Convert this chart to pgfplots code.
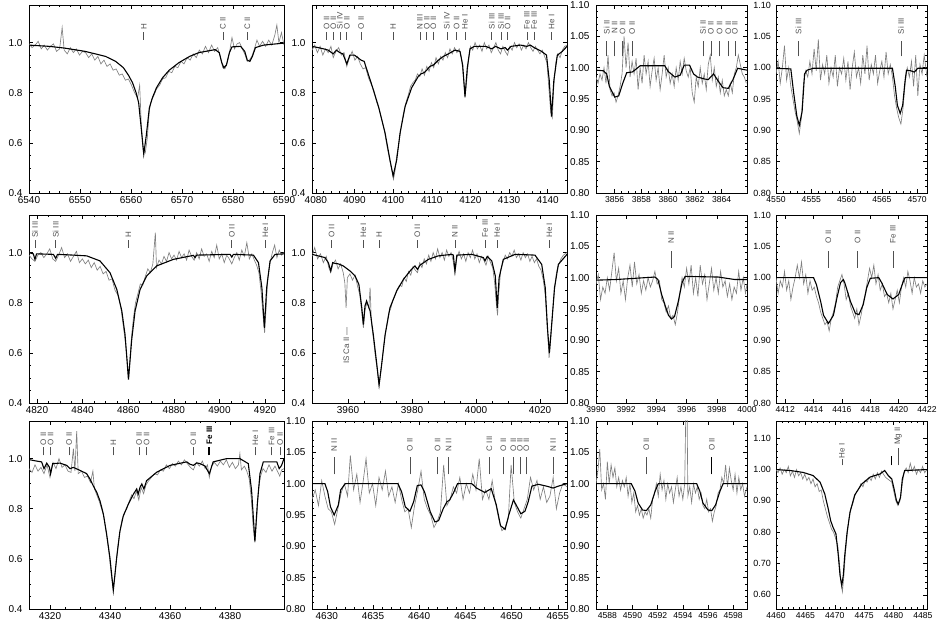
\documentclass[border=0pt]{standalone}
\usepackage{pgfplots}
\pgfplotsset{compat=1.18}
\usepackage{fontspec}
\setmainfont{Liberation Sans}
\definecolor{obsc}{RGB}{128,128,128}
\definecolor{labc}{RGB}{80,80,80}
\newcommand\tickfont{\fontsize{10}{11}\selectfont}
\newcommand\lfont{\fontsize{8}{9}\selectfont}
\def\barlen{8pt}\def\bargap{2pt}
% line identification: bar from (lambda,y) upwards, rotated text above it
\newcommand\lab[4][]{\draw[labc,line width=0.6pt,#1] (axis cs:#2,#3) -- ++(0pt,\barlen) ++(0pt,\bargap) node[rotate=90,anchor=west,inner sep=0pt,font=\lfont,text=labc] {#4};}
\pgfplotsset{
  spec/.style={scale only axis, anchor=south west, height=188pt,
    axis line style={line width=0.6pt}, tick style={black,line width=0.5pt},
    tick align=inside, major tick length=4pt, minor tick length=2pt,
    xtick pos=both, ytick pos=both, clip mode=individual,
    xticklabel style={font=\tickfont,/pgf/number format/1000 sep={},/pgf/number format/assume math mode=true},
    yticklabel style={font=\tickfont,xshift=-3pt,/pgf/number format/fixed,/pgf/number format/fixed zerofill,/pgf/number format/precision=2,/pgf/number format/assume math mode=true}},
  wide/.style={width=255pt},
  narrow/.style={width=151pt,xticklabel style={font=\fontsize{8.6}{10}\selectfont}},
  colfour/.style={yticklabel style={font=\fontsize{9}{10}\selectfont,xshift=1.5pt}},
  lowy/.style={ymin=0.4,ymax=1.15,ytick={0.4,0.6,0.8,1.0},minor y tick num=3,yticklabel style={/pgf/number format/precision=1}},
  hiy/.style={ymin=0.8,ymax=1.1,ytick={0.8,0.85,0.9,0.95,1,1.05,1.1},minor y tick num=4},
  obs/.style={obsc,line width=0.65pt,mark=none},
  mod/.style={black,line width=1.1pt,mark=none},
}
\begin{document}
\begin{tikzpicture}[x=1pt,y=1pt]
\useasboundingbox (0,0) rectangle (945,629);

% ---------------- row 1 ----------------
\def\barlen{8pt}\def\bargap{2pt}
\begin{axis}[spec,wide,lowy,at={(29pt,436pt)},xmin=6540,xmax=6590,xtick={6540,6550,...,6590},minor x tick num=4]
\addplot[obs] coordinates {(6540.0,0.995)(6540.6,0.98)(6541.2,0.99)(6541.8,1.005)(6542.4,0.975)(6543.0,0.99)(6543.6,0.97)(6544.2,0.985)(6544.8,0.995)(6545.4,0.965)(6546.0,0.975)(6546.5,1.06)(6546.9,0.97)(6547.5,0.955)(6548.1,0.98)(6548.7,0.96)(6549.3,0.975)(6549.9,0.95)(6550.5,0.965)(6551.1,0.96)(6551.7,0.94)(6552.3,0.955)(6552.9,0.93)(6553.5,0.945)(6554.1,0.915)(6554.7,0.93)(6555.3,0.905)(6555.9,0.915)(6556.5,0.89)(6557.1,0.895)(6557.7,0.87)(6558.3,0.875)(6558.9,0.85)(6559.5,0.855)(6560.1,0.83)(6560.7,0.80)(6561.3,0.78)(6561.7,0.83)(6562.0,0.68)(6562.4,0.57)(6562.8,0.56)(6563.2,0.62)(6563.6,0.73)(6564.0,0.77)(6564.5,0.79)(6565.0,0.815)(6565.6,0.83)(6566.2,0.855)(6566.8,0.86)(6567.4,0.885)(6568.0,0.88)(6568.6,0.905)(6569.2,0.90)(6569.8,0.925)(6570.4,0.915)(6571.0,0.94)(6571.6,0.93)(6572.2,0.955)(6572.8,0.94)(6573.4,0.97)(6574.0,0.955)(6574.6,0.985)(6575.2,0.96)(6575.8,0.99)(6576.4,0.965)(6577.0,0.98)(6577.5,0.945)(6578.0,0.90)(6578.4,0.895)(6578.8,0.915)(6579.3,0.96)(6579.8,1.02)(6580.3,0.975)(6580.8,0.995)(6581.3,1.00)(6581.8,0.975)(6582.3,0.955)(6582.8,0.925)(6583.2,0.93)(6583.7,0.945)(6584.2,0.975)(6584.7,1.01)(6585.2,0.985)(6585.8,1.005)(6586.4,0.985)(6587.0,1.01)(6587.6,0.99)(6588.2,1.03)(6588.6,1.07)(6589.0,1.0)(6589.5,1.04)(6590.0,0.99)};
\addplot[mod] coordinates {(6540,0.99)(6544,0.985)(6547,0.978)(6551,0.965)(6555,0.945)(6557,0.925)(6558.5,0.9)(6559.5,0.87)(6560.3,0.84)(6561,0.80)(6561.5,0.76)(6562,0.66)(6562.5,0.555)(6563,0.63)(6563.6,0.74)(6564.2,0.78)(6565,0.82)(6566.2,0.86)(6567.5,0.89)(6569.4,0.92)(6571.5,0.945)(6573.3,0.96)(6576.5,0.972)(6577.3,0.96)(6577.8,0.92)(6578.2,0.90)(6578.7,0.91)(6579.3,0.96)(6579.8,0.983)(6581.5,0.985)(6582.3,0.965)(6582.8,0.93)(6583.3,0.925)(6583.8,0.945)(6584.4,0.98)(6586,0.99)(6590,0.998)};
\lab{6562.5}{1.012}{H}
\lab{6578.0}{1.012}{C II}
\lab{6582.8}{1.012}{C II}
\end{axis}

\begin{axis}[spec,wide,lowy,at={(312pt,436pt)},xmin=4079,xmax=4145,xtick={4080,4090,...,4140},minor x tick num=4]
\addplot[obs] coordinates {(4079.0,0.97)(4079.7,0.99)(4080.4,0.96)(4081.1,0.985)(4081.8,0.95)(4082.5,0.975)(4083.2,0.96)(4083.9,0.985)(4084.5,0.94)(4085.2,0.965)(4085.9,0.98)(4086.6,0.95)(4087.3,0.96)(4088.0,0.905)(4088.7,0.94)(4089.4,0.965)(4090.1,0.93)(4090.8,0.945)(4091.5,0.915)(4092.2,0.895)(4092.9,0.90)(4093.6,0.86)(4094.3,0.835)(4095.0,0.81)(4095.7,0.765)(4096.4,0.735)(4097.1,0.69)(4097.8,0.645)(4098.5,0.58)(4099.2,0.525)(4099.7,0.49)(4100.1,0.455)(4100.5,0.49)(4100.9,0.545)(4101.5,0.60)(4102.1,0.665)(4102.7,0.72)(4103.3,0.76)(4103.9,0.79)(4104.5,0.825)(4105.1,0.84)(4105.7,0.85)(4106.3,0.875)(4106.9,0.865)(4107.5,0.895)(4108.1,0.87)(4108.7,0.905)(4109.3,0.885)(4109.9,0.92)(4110.5,0.90)(4111.1,0.94)(4111.7,0.915)(4112.3,0.945)(4112.9,0.93)(4113.5,0.96)(4114.1,0.94)(4114.7,0.975)(4115.3,0.955)(4115.9,0.98)(4116.5,0.96)(4117.1,0.975)(4117.7,0.94)(4118.2,0.86)(4118.6,0.78)(4119.0,0.84)(4119.5,0.93)(4120.0,0.985)(4120.6,0.97)(4121.2,1.0)(4121.8,0.975)(4122.4,0.99)(4123.0,0.965)(4123.6,1.0)(4124.2,0.975)(4124.8,0.99)(4125.4,0.96)(4126.0,0.98)(4126.6,1.0)(4127.2,0.97)(4127.8,0.955)(4128.4,0.985)(4129.0,0.965)(4129.6,0.95)(4130.2,0.985)(4130.8,0.97)(4131.4,1.0)(4132.0,0.98)(4132.6,0.995)(4133.2,0.97)(4133.8,0.99)(4134.4,0.975)(4135.0,1.0)(4135.6,0.98)(4136.2,0.965)(4136.8,0.985)(4137.4,0.97)(4138.0,0.955)(4138.6,0.97)(4139.2,0.945)(4139.8,0.92)(4140.3,0.82)(4140.8,0.72)(4141.2,0.70)(4141.6,0.83)(4142.1,0.92)(4142.6,0.955)(4143.2,0.94)(4143.8,0.97)(4144.4,0.985)(4145.0,0.99)};
\addplot[mod] coordinates {(4079,0.985)(4080.6,0.98)(4082,0.975)(4083.2,0.97)(4084.5,0.955)(4085.3,0.97)(4086.2,0.96)(4087,0.955)(4088.0,0.915)(4088.8,0.95)(4090,0.95)(4091.7,0.93)(4092.5,0.925)(4094.5,0.83)(4096.2,0.745)(4097.9,0.64)(4099.2,0.53)(4100.0,0.468)(4100.9,0.53)(4101.8,0.64)(4103.1,0.745)(4104.8,0.82)(4106.5,0.865)(4107.2,0.875)(4108.0,0.88)(4108.7,0.89)(4109.5,0.905)(4110.4,0.91)(4111.7,0.93)(4113,0.945)(4114.3,0.955)(4116,0.97)(4117.3,0.965)(4118.0,0.91)(4118.6,0.785)(4119.2,0.9)(4119.9,0.975)(4121,0.985)(4124,0.985)(4125.5,0.975)(4126.5,0.985)(4127.9,0.975)(4129,0.98)(4129.6,0.97)(4130.5,0.985)(4133,0.99)(4134.6,0.985)(4135.5,0.99)(4136.5,0.98)(4138.4,0.965)(4139.7,0.95)(4140.4,0.85)(4141.0,0.705)(4141.6,0.85)(4142.5,0.95)(4143.8,0.965)(4145,0.985)};
\lab{4082.8}{1.012}{O II}\lab{4084.5}{1.012}{O II}\lab{4086.2}{1.012}{Si IV}\lab{4088.0}{1.012}{O II}\lab{4091.7}{1.012}{O II}
\lab{4100.0}{1.012}{H}
\lab{4106.95}{1.012}{N III}\lab{4108.7}{1.012}{O II}\lab{4110.4}{1.012}{O II}\lab{4113.9}{1.012}{Si IV}\lab{4116.4}{1.012}{O II}\lab{4118.6}{1.012}{He I}
\lab{4125.5}{1.012}{Si III}\lab{4127.9}{1.012}{Si III}\lab{4129.6}{1.012}{O II}\lab{4134.6}{1.012}{Fe III}\lab{4136.5}{1.012}{Fe III}
\lab{4141.0}{1.012}{He I}
\end{axis}

\def\barlen{15pt}\def\bargap{7pt}
\begin{axis}[spec,narrow,hiy,at={(596pt,436pt)},xmin=3854.6,xmax=3865.9,xtick={3856,3858,...,3864},minor x tick num=3]
\addplot[obs] coordinates {(3854.6,0.985)(3854.75,0.975)(3854.9,0.99)(3855.05,0.98)(3855.2,1.0)(3855.35,0.975)(3855.5,1.02)(3855.65,0.965)(3855.8,0.955)(3855.95,0.96)(3856.1,0.945)(3856.25,0.955)(3856.4,0.97)(3856.55,0.99)(3856.7,1.05)(3856.85,1.0)(3857.0,1.04)(3857.15,0.985)(3857.3,1.01)(3857.45,0.99)(3857.6,1.015)(3857.75,0.965)(3857.9,1.0)(3858.05,0.975)(3858.2,1.02)(3858.35,0.99)(3858.5,1.01)(3858.65,0.97)(3858.8,0.995)(3858.95,1.015)(3859.1,0.98)(3859.25,1.0)(3859.4,0.965)(3859.55,0.99)(3859.7,1.02)(3859.85,0.985)(3860.0,1.0)(3860.15,0.975)(3860.3,0.99)(3860.45,0.97)(3860.6,1.0)(3860.75,0.98)(3860.9,1.01)(3861.05,0.99)(3861.2,1.015)(3861.35,0.995)(3861.5,0.985)(3861.65,1.0)(3861.8,0.96)(3861.95,0.945)(3862.1,0.985)(3862.25,0.97)(3862.4,1.0)(3862.55,0.975)(3862.7,0.99)(3862.85,0.965)(3863.0,1.005)(3863.15,1.02)(3863.3,0.98)(3863.45,1.0)(3863.6,0.97)(3863.75,0.985)(3863.9,0.96)(3864.05,0.98)(3864.2,0.955)(3864.35,0.965)(3864.5,0.955)(3864.65,0.975)(3864.8,0.96)(3864.95,0.99)(3865.1,1.0)(3865.25,1.02)(3865.4,1.005)(3865.55,0.99)(3865.7,0.985)(3865.85,0.975)};
\addplot[mod] coordinates {(3854.6,0.996)(3855.15,0.995)(3855.4,0.99)(3855.6,0.97)(3856.0,0.953)(3856.3,0.955)(3856.6,0.975)(3856.9,0.992)(3857.3,0.993)(3857.5,0.996)(3857.9,1.003)(3859.75,1.003)(3860.0,0.994)(3860.5,0.985)(3860.9,0.988)(3861.2,1.004)(3861.6,1.004)(3861.9,0.99)(3862.2,0.985)(3862.7,0.982)(3863.0,0.981)(3863.4,0.99)(3863.7,0.98)(3864.1,0.968)(3864.5,0.967)(3864.85,0.981)(3865.2,0.999)(3865.9,0.996)};
\lab{3855.4}{1.018}{Si II}\lab[line width=1.4pt]{3856.0}{1.018}{N II}\lab{3856.6}{1.018}{O II}\lab{3857.3}{1.018}{O II}
\lab{3862.6}{1.018}{Si II}\lab{3863.2}{1.018}{O II}\lab{3863.85}{1.018}{O II}\lab{3864.5}{1.018}{O II}\lab{3865.0}{1.018}{O II}
\end{axis}

\begin{axis}[spec,narrow,colfour,hiy,at={(776pt,436pt)},xmin=4550,xmax=4571.4,xtick={4550,4555,...,4570},minor x tick num=4]
\addplot[obs] coordinates {(4550.0,0.99)(4550.3,1.01)(4550.6,0.975)(4550.9,1.0)(4551.2,1.035)(4551.5,0.98)(4551.8,1.0)(4552.1,0.97)(4552.4,0.95)(4552.7,0.93)(4553.0,0.915)(4553.3,0.895)(4553.6,0.92)(4553.9,0.975)(4554.2,0.995)(4554.5,0.985)(4554.8,1.01)(4555.1,0.99)(4555.4,1.03)(4555.7,0.995)(4556.0,1.045)(4556.3,0.98)(4556.6,1.005)(4556.9,0.99)(4557.2,1.02)(4557.5,0.975)(4557.8,1.0)(4558.1,0.985)(4558.4,1.02)(4558.7,0.97)(4559.0,1.0)(4559.3,0.99)(4559.6,1.015)(4559.9,0.98)(4560.2,1.01)(4560.5,0.965)(4560.8,1.0)(4561.1,1.025)(4561.4,0.985)(4561.7,1.0)(4562.0,0.975)(4562.3,1.02)(4562.6,0.99)(4562.9,1.035)(4563.2,0.98)(4563.5,1.005)(4563.8,0.99)(4564.1,1.02)(4564.4,0.975)(4564.7,0.995)(4565.0,1.01)(4565.3,0.985)(4565.6,1.025)(4565.9,0.99)(4566.2,1.005)(4566.5,0.985)(4566.8,0.955)(4567.1,0.935)(4567.4,0.92)(4567.7,0.91)(4568.0,0.935)(4568.3,0.975)(4568.6,1.0)(4568.9,0.985)(4569.2,1.01)(4569.5,0.97)(4569.8,1.02)(4570.1,0.955)(4570.4,1.005)(4570.7,0.99)(4571.0,1.02)(4571.4,0.985)};
\addplot[mod] coordinates {(4550,0.999)(4552.1,0.998)(4552.5,0.96)(4552.95,0.923)(4553.3,0.908)(4553.7,0.93)(4554.05,0.99)(4554.4,0.996)(4555.3,0.999)(4566.5,0.999)(4566.9,0.97)(4567.2,0.94)(4567.6,0.927)(4567.95,0.94)(4568.3,0.98)(4568.5,0.996)(4569.1,0.995)(4569.6,0.993)(4570.1,0.999)(4571.4,0.999)};
\lab{4553.2}{1.018}{Si III}
\lab{4567.7}{1.018}{Si III}
\end{axis}

% ---------------- row 2 ----------------
\def\barlen{8pt}\def\bargap{2pt}
\begin{axis}[spec,wide,lowy,at={(29pt,226pt)},xmin=4816.5,xmax=4928.3,xtick={4820,4840,...,4920},minor x tick num=3]
\addplot[obs] coordinates {(4816.5,0.99)(4817.8,0.975)(4819.1,0.965)(4820.4,0.99)(4821.7,1.0)(4823.0,0.98)(4824.3,0.995)(4825.6,1.015)(4826.9,0.975)(4828.2,0.965)(4829.5,0.99)(4830.8,1.02)(4832.1,0.98)(4833.4,0.995)(4834.7,0.965)(4836.0,0.985)(4837.3,1.005)(4838.6,0.96)(4839.9,0.975)(4841.2,0.955)(4842.5,0.97)(4843.8,0.94)(4845.1,0.96)(4846.4,0.93)(4847.7,0.945)(4849.0,0.915)(4850.3,0.925)(4851.6,0.89)(4852.9,0.895)(4854.2,0.85)(4855.5,0.83)(4856.8,0.78)(4857.8,0.71)(4858.8,0.64)(4859.6,0.56)(4860.2,0.50)(4860.8,0.58)(4861.5,0.67)(4862.3,0.74)(4863.2,0.80)(4864.2,0.835)(4865.3,0.875)(4866.4,0.87)(4867.5,0.905)(4868.6,0.935)(4869.7,0.92)(4870.8,0.955)(4871.9,1.08)(4872.4,0.94)(4873.5,0.97)(4874.6,0.955)(4875.7,0.985)(4876.8,0.965)(4877.9,1.0)(4879.0,0.975)(4880.1,0.99)(4881.2,0.97)(4882.3,1.005)(4883.4,0.98)(4884.5,0.995)(4885.6,0.97)(4886.7,1.01)(4887.8,0.985)(4888.9,0.97)(4890.0,1.0)(4891.1,0.975)(4892.2,1.015)(4893.3,0.985)(4894.4,0.995)(4895.5,0.965)(4896.6,1.005)(4897.7,0.98)(4898.8,1.03)(4899.9,0.975)(4901.0,0.995)(4902.1,0.96)(4903.2,0.99)(4904.3,0.975)(4905.4,0.955)(4906.5,0.98)(4907.6,1.0)(4908.7,0.97)(4909.8,1.01)(4910.9,0.985)(4912.0,1.04)(4913.1,0.975)(4914.2,0.995)(4915.3,0.97)(4916.3,0.95)(4917.3,0.92)(4918.3,0.84)(4919.2,0.74)(4919.8,0.68)(4920.4,0.77)(4921.2,0.90)(4922.2,0.96)(4923.2,1.0)(4924.2,1.03)(4925.2,0.98)(4926.2,1.01)(4927.2,0.99)(4928.3,1.0)};
\addplot[mod] coordinates {(4816.5,1.0)(4818.4,0.995)(4819.1,0.973)(4819.8,0.995)(4827.2,0.993)(4828.2,0.977)(4829.0,0.993)(4835.9,0.99)(4841.8,0.987)(4847.6,0.967)(4852.0,0.92)(4855,0.853)(4857.2,0.767)(4858.6,0.673)(4859.4,0.58)(4860.1,0.493)(4860.8,0.57)(4861.5,0.65)(4863,0.767)(4865.2,0.853)(4868.1,0.907)(4872.5,0.947)(4879.8,0.973)(4888.6,0.989)(4889.3,0.98)(4890,0.99)(4904.7,0.993)(4905.4,0.982)(4906.1,0.993)(4914.9,0.99)(4917.1,0.96)(4918.6,0.86)(4919.7,0.70)(4920.7,0.86)(4922.2,0.967)(4924.4,0.993)(4928.3,0.995)};
\lab{4819.1}{1.019}{Si III}\lab{4828.2}{1.019}{Si III}
\lab{4860.1}{1.019}{H}
\lab{4905.4}{1.019}{O II}\lab{4920.1}{1.019}{He I}
\end{axis}

\begin{axis}[spec,wide,lowy,at={(312pt,226pt)},xmin=3948.75,xmax=4028.4,xtick={3960,3980,...,4020},minor x tick num=3]
\addplot[obs] coordinates {(3948.75,0.985)(3949.6,1.02)(3950.5,0.975)(3951.4,0.995)(3952.3,0.96)(3953.2,0.985)(3954.0,0.94)(3954.6,0.92)(3955.3,0.955)(3956.1,0.97)(3956.9,0.935)(3957.7,0.955)(3958.5,0.92)(3959.0,0.88)(3959.4,0.78)(3959.8,0.90)(3960.6,0.915)(3961.4,0.89)(3962.2,0.91)(3963.0,0.865)(3963.7,0.83)(3964.3,0.76)(3964.8,0.70)(3965.3,0.77)(3965.9,0.80)(3966.5,0.78)(3966.9,0.86)(3967.3,0.72)(3967.9,0.66)(3968.5,0.59)(3969.1,0.535)(3969.7,0.465)(3970.3,0.53)(3970.9,0.60)(3971.5,0.665)(3972.1,0.71)(3972.7,0.76)(3973.3,0.775)(3974.0,0.81)(3974.7,0.83)(3975.4,0.855)(3976.1,0.87)(3976.8,0.865)(3977.5,0.90)(3978.2,0.885)(3978.9,0.925)(3979.6,0.91)(3980.3,0.945)(3981.0,0.93)(3981.7,0.92)(3982.4,0.96)(3983.1,0.94)(3983.8,0.975)(3984.5,0.955)(3985.2,0.99)(3985.9,0.965)(3986.6,1.0)(3987.3,0.975)(3988.0,1.015)(3988.7,0.98)(3989.4,1.0)(3990.1,0.97)(3990.8,1.01)(3991.5,0.985)(3992.2,1.0)(3992.8,0.97)(3993.4,0.915)(3994.0,0.98)(3994.7,1.005)(3995.4,0.975)(3996.1,0.995)(3996.8,0.965)(3997.5,1.0)(3998.2,0.98)(3998.9,1.01)(3999.6,0.975)(4000.3,0.995)(4001.0,0.96)(4001.7,0.985)(4002.4,0.97)(4003.1,0.95)(4003.8,0.985)(4004.5,0.96)(4005.2,0.94)(4005.8,0.88)(4006.3,0.80)(4006.7,0.75)(4007.1,0.84)(4007.7,0.93)(4008.4,0.96)(4009.1,0.99)(4009.8,0.975)(4010.5,1.0)(4011.2,0.985)(4011.9,1.01)(4012.6,0.98)(4013.3,0.995)(4014.0,0.97)(4014.7,1.0)(4015.4,0.98)(4016.1,0.995)(4016.8,0.965)(4017.5,0.985)(4018.2,0.96)(4018.9,0.975)(4019.6,0.945)(4020.3,0.93)(4021.0,0.89)(4021.6,0.83)(4022.2,0.71)(4022.8,0.58)(4023.3,0.65)(4023.9,0.76)(4024.5,0.85)(4025.1,0.92)(4025.8,0.95)(4026.5,0.975)(4027.3,0.99)(4028.4,1.0)};
\addplot[mod] coordinates {(3948.75,0.993)(3952.8,0.98)(3953.85,0.96)(3954.6,0.927)(3955.2,0.96)(3955.9,0.957)(3957.0,0.955)(3958.5,0.947)(3960.6,0.927)(3962.2,0.907)(3963.4,0.873)(3964.3,0.78)(3964.8,0.713)(3965.3,0.787)(3965.8,0.807)(3966.9,0.767)(3967.9,0.673)(3969.0,0.553)(3969.7,0.473)(3970.5,0.553)(3971.6,0.673)(3973.1,0.78)(3975.2,0.847)(3977.3,0.893)(3979.4,0.927)(3980.9,0.947)(3981.7,0.933)(3982.5,0.95)(3985.1,0.973)(3988.2,0.987)(3992.4,0.993)(3992.9,0.99)(3993.4,0.927)(3994.0,0.99)(3998.65,0.993)(4002.3,0.98)(4002.8,0.967)(4003.5,0.985)(4004.9,0.967)(4006.0,0.907)(4006.6,0.78)(4007.2,0.9)(4008.5,0.973)(4012.2,0.993)(4018.4,0.99)(4020.5,0.953)(4021.6,0.86)(4022.3,0.7)(4022.9,0.6)(4023.7,0.727)(4024.5,0.86)(4025.7,0.953)(4028.4,0.993)};
\lab{3954.9}{1.019}{O II}\lab{3964.8}{1.019}{He I}\lab{3969.7}{1.019}{H}\lab{3981.7}{1.019}{O II}
\lab{3993.4}{1.019}{N II}\lab{4002.8}{1.019}{Fe III}\lab{4006.6}{1.019}{He I}\lab{4022.9}{1.019}{He I}
\node[rotate=90,anchor=west,inner sep=0pt,font=\lfont,text=labc] at (axis cs:3959.5,0.555) {IS Ca II \textemdash};
\end{axis}

\def\barlen{17pt}\def\bargap{7pt}
\begin{axis}[spec,narrow,hiy,at={(596pt,226pt)},xmin=3990,xmax=4000,xtick={3990,3992,...,4000},minor x tick num=3]
\addplot[obs] coordinates {(3990.0,0.99)(3990.15,1.005)(3990.3,0.965)(3990.45,0.985)(3990.6,0.975)(3990.75,1.0)(3990.9,0.98)(3991.05,1.01)(3991.2,1.04)(3991.35,0.995)(3991.5,1.015)(3991.65,0.975)(3991.8,0.995)(3991.95,0.965)(3992.1,1.0)(3992.25,1.02)(3992.4,0.985)(3992.55,1.025)(3992.7,0.99)(3992.85,1.005)(3993.0,0.975)(3993.15,0.995)(3993.3,0.98)(3993.45,1.0)(3993.6,0.985)(3993.75,0.995)(3993.9,1.01)(3994.05,0.99)(3994.2,0.995)(3994.35,0.965)(3994.5,0.96)(3994.65,0.945)(3994.8,0.955)(3994.95,0.935)(3995.1,0.94)(3995.25,0.925)(3995.4,0.945)(3995.55,0.975)(3995.7,1.0)(3995.85,0.985)(3996.0,1.015)(3996.15,0.99)(3996.3,1.02)(3996.45,0.975)(3996.6,1.0)(3996.75,0.97)(3996.9,1.02)(3997.05,0.99)(3997.2,1.005)(3997.35,0.965)(3997.5,0.99)(3997.65,1.015)(3997.8,0.98)(3997.95,1.0)(3998.1,0.975)(3998.25,1.01)(3998.4,0.985)(3998.55,0.995)(3998.7,0.97)(3998.85,0.99)(3999.0,0.965)(3999.15,0.985)(3999.3,0.975)(3999.45,1.01)(3999.6,0.98)(3999.75,1.0)(3999.9,0.975)(4000.0,0.99)};
\addplot[mod] coordinates {(3990,0.996)(3991.3,0.997)(3993.9,1.001)(3994.1,0.997)(3994.35,0.973)(3994.6,0.954)(3994.8,0.94)(3995.0,0.934)(3995.2,0.938)(3995.45,0.962)(3995.7,0.992)(3995.9,1.002)(3998.1,1.001)(3999.2,0.997)(4000,0.997)};
\lab{3994.97}{1.016}{N II}
\end{axis}

\begin{axis}[spec,narrow,colfour,hiy,at={(776pt,226pt)},xmin=4411.35,xmax=4422.0,xtick={4412,4414,...,4422},minor x tick num=3]
\addplot[obs] coordinates {(4411.35,1.0)(4411.5,0.975)(4411.65,0.995)(4411.8,0.985)(4411.95,1.01)(4412.1,0.98)(4412.25,0.995)(4412.4,0.965)(4412.55,0.985)(4412.7,1.0)(4412.85,1.02)(4413.0,1.0)(4413.15,1.025)(4413.3,0.99)(4413.45,1.005)(4413.6,0.975)(4413.75,0.995)(4413.9,0.98)(4414.05,0.985)(4414.2,0.97)(4414.35,0.96)(4414.5,0.945)(4414.65,0.935)(4414.8,0.925)(4414.95,0.93)(4415.1,0.915)(4415.25,0.935)(4415.4,0.945)(4415.55,0.96)(4415.7,0.985)(4415.85,0.995)(4416.0,1.005)(4416.15,0.99)(4416.3,0.965)(4416.45,0.975)(4416.6,0.955)(4416.75,0.945)(4416.9,0.935)(4417.05,0.95)(4417.2,0.925)(4417.35,0.94)(4417.5,0.96)(4417.65,0.975)(4417.8,0.995)(4417.95,1.015)(4418.1,1.0)(4418.25,1.02)(4418.4,0.99)(4418.55,1.005)(4418.7,0.98)(4418.85,0.99)(4419.0,0.97)(4419.15,0.975)(4419.3,0.96)(4419.45,0.975)(4419.6,0.95)(4419.75,0.965)(4419.9,0.98)(4420.05,0.96)(4420.2,0.985)(4420.35,1.0)(4420.5,0.985)(4420.65,1.01)(4420.8,0.995)(4420.95,0.975)(4421.1,1.0)(4421.25,0.985)(4421.4,0.99)(4421.55,0.975)(4421.7,0.995)(4421.85,0.985)(4422.0,0.99)};
\addplot[mod] coordinates {(4411.35,1.0)(4414.0,1.0)(4414.2,0.989)(4414.5,0.962)(4414.7,0.94)(4415.05,0.927)(4415.4,0.94)(4415.65,0.968)(4415.9,0.992)(4416.1,0.997)(4416.2,0.992)(4416.6,0.962)(4416.95,0.943)(4417.2,0.941)(4417.5,0.957)(4417.75,0.984)(4418.0,0.999)(4418.6,1.0)(4418.8,0.992)(4419.2,0.973)(4419.6,0.966)(4420.0,0.973)(4420.3,0.992)(4420.45,1.0)(4422.0,1.0)};
\lab{4415.05}{1.016}{O II}\lab{4417.1}{1.016}{O II}\lab{4419.6}{1.016}{Fe III}
\end{axis}

% ---------------- row 3 ----------------
\def\barlen{8pt}\def\bargap{2pt}
\begin{axis}[spec,wide,lowy,at={(29pt,20pt)},xmin=4313,xmax=4398,xtick={4320,4340,...,4380},minor x tick num=3]
\addplot[obs] coordinates {(4313.0,0.96)(4314.0,0.945)(4315.0,0.975)(4316.0,0.95)(4317.0,0.965)(4318.0,0.94)(4319.0,0.975)(4320.0,0.925)(4321.0,0.985)(4322.0,0.96)(4323.0,1.0)(4324.0,0.965)(4325.0,0.975)(4326.0,0.95)(4327.0,0.945)(4327.8,1.04)(4328.3,0.95)(4328.9,1.11)(4329.4,0.94)(4330.5,0.95)(4331.5,0.925)(4332.5,0.93)(4333.5,0.905)(4334.3,0.95)(4334.8,0.88)(4335.6,0.855)(4336.4,0.83)(4337.2,0.80)(4338.0,0.765)(4338.8,0.70)(4339.6,0.63)(4340.4,0.54)(4341.1,0.475)(4341.8,0.55)(4342.5,0.64)(4343.2,0.70)(4344.0,0.755)(4344.8,0.785)(4345.6,0.80)(4346.4,0.83)(4347.2,0.855)(4348.0,0.84)(4348.8,0.87)(4349.6,0.835)(4350.4,0.885)(4351.2,0.86)(4352.0,0.895)(4352.8,0.91)(4353.8,0.925)(4354.8,0.94)(4355.8,0.935)(4356.8,0.955)(4357.8,0.95)(4358.8,0.975)(4359.8,0.96)(4360.8,0.98)(4361.8,0.97)(4362.8,0.99)(4363.8,0.975)(4364.8,0.995)(4365.8,0.98)(4366.8,0.965)(4367.8,0.955)(4368.8,0.985)(4369.8,0.97)(4370.8,0.99)(4371.7,0.96)(4372.5,0.975)(4373.1,0.925)(4373.9,0.97)(4374.8,0.985)(4375.8,0.97)(4376.8,0.99)(4377.8,0.975)(4378.8,0.995)(4379.8,0.965)(4380.8,0.985)(4381.8,0.96)(4382.8,0.975)(4383.3,1.02)(4383.8,0.955)(4384.8,0.97)(4385.6,0.95)(4386.4,0.92)(4387.1,0.84)(4387.7,0.73)(4388.3,0.665)(4388.9,0.76)(4389.5,0.88)(4390.2,0.93)(4391.0,0.96)(4392.0,0.945)(4393.0,0.975)(4394.0,0.95)(4395.0,0.97)(4396.0,0.945)(4396.6,0.93)(4397.2,0.955)(4398.0,0.96)};
\addplot[mod] coordinates {(4313,0.996)(4315.6,0.99)(4317.2,0.987)(4318,0.96)(4318.9,0.982)(4319.8,0.966)(4320.2,0.94)(4320.9,0.98)(4323.3,0.982)(4325.6,0.973)(4326.7,0.96)(4327.8,0.965)(4330,0.953)(4332.2,0.94)(4333.3,0.919)(4334.4,0.892)(4335.6,0.865)(4336.7,0.83)(4337.8,0.778)(4338.9,0.697)(4340.0,0.602)(4341.1,0.474)(4342.2,0.602)(4343.3,0.71)(4344.4,0.77)(4346.1,0.818)(4347.8,0.858)(4348.9,0.879)(4349.4,0.858)(4350.0,0.885)(4350.6,0.899)(4351.3,0.879)(4352.2,0.912)(4355.6,0.946)(4360,0.973)(4365.6,0.987)(4366.6,0.978)(4367.8,0.973)(4368.9,0.983)(4370,0.98)(4371.7,0.97)(4373.1,0.94)(4374.4,0.987)(4378.9,1.0)(4383.3,1.0)(4386.1,0.98)(4387.2,0.872)(4388.3,0.67)(4389.1,0.818)(4390,0.94)(4391.1,0.987)(4395.6,0.987)(4396.4,0.96)(4397.2,0.973)(4398,1.0)};
\lab{4317.8}{1.013}{O II}\lab{4320.2}{1.013}{O II}\lab{4326.4}{1.013}{O II}
\lab{4341.1}{1.013}{H}
\lab{4349.7}{1.013}{O II}\lab{4352.2}{1.013}{O II}\lab{4367.8}{1.013}{O II}
\lab[black,line width=1.6pt]{4373.1}{1.013}{\textcolor{black}{\textbf{Fe III}}}
\lab{4388.5}{1.013}{He I}\lab{4393.9}{1.013}{Fe III}\lab{4396.7}{1.013}{O II}
\end{axis}

\def\barlen{17pt}\def\bargap{6pt}
\begin{axis}[spec,wide,hiy,at={(312pt,20pt)},xmin=4628.4,xmax=4656,xtick={4630,4635,...,4655},minor x tick num=4]
\addplot[obs] coordinates {(4628.4,0.975)(4628.75,0.99)(4629.1,0.965)(4629.45,1.005)(4629.8,0.98)(4630.15,0.96)(4630.5,0.955)(4630.85,0.935)(4631.2,0.96)(4631.55,0.985)(4631.9,1.0)(4632.25,0.98)(4632.55,1.045)(4632.9,0.99)(4633.25,1.015)(4633.6,0.97)(4633.95,1.005)(4634.25,1.04)(4634.6,0.985)(4634.95,1.0)(4635.3,0.965)(4635.65,1.01)(4636.0,0.99)(4636.35,1.02)(4636.7,0.98)(4637.05,0.995)(4637.4,0.97)(4637.75,1.0)(4638.1,0.975)(4638.45,0.955)(4638.8,0.96)(4639.15,0.93)(4639.5,0.965)(4639.85,0.99)(4640.2,1.02)(4640.55,0.975)(4640.9,0.96)(4641.25,0.95)(4641.6,0.93)(4641.95,0.94)(4642.3,0.955)(4642.65,1.03)(4643.0,0.965)(4643.35,0.975)(4643.7,0.995)(4644.05,0.985)(4644.4,1.01)(4644.75,0.975)(4645.1,1.0)(4645.45,0.985)(4645.8,1.015)(4646.15,0.99)(4646.5,1.04)(4646.85,0.975)(4647.2,0.99)(4647.55,0.975)(4647.9,1.005)(4648.25,0.97)(4648.6,0.945)(4648.95,0.925)(4649.3,0.93)(4649.65,0.945)(4649.95,1.03)(4650.3,0.97)(4650.65,0.955)(4651.0,0.945)(4651.35,0.96)(4651.7,0.975)(4652.05,1.01)(4652.4,0.99)(4652.75,1.005)(4653.1,0.975)(4653.45,0.995)(4653.8,0.97)(4654.15,0.98)(4654.5,1.01)(4654.85,0.96)(4655.2,0.985)(4655.55,1.0)(4656.0,0.995)};
\addplot[mod] coordinates {(4628.4,1.0)(4629.8,1.0)(4630.1,0.987)(4630.4,0.963)(4630.8,0.95)(4631.25,0.966)(4631.5,0.99)(4632,1.0)(4637.7,1.0)(4638.1,0.987)(4638.5,0.963)(4639.0,0.956)(4639.4,0.971)(4639.8,0.997)(4640.2,0.998)(4640.6,0.986)(4641.2,0.955)(4641.7,0.939)(4642.1,0.941)(4642.6,0.96)(4643.0,0.971)(4643.3,0.974)(4643.7,0.985)(4644.15,1.0)(4645.7,1.0)(4646.2,0.993)(4647.1,0.986)(4647.8,0.992)(4648.35,0.966)(4648.8,0.933)(4649.3,0.927)(4649.7,0.95)(4650.2,0.974)(4650.5,0.966)(4651.0,0.952)(4651.45,0.956)(4651.8,0.971)(4652.2,0.996)(4652.9,0.999)(4653.8,0.996)(4654.5,0.993)(4655.05,0.996)(4656,1.0)};
\lab{4630.8}{1.0147}{N II}\lab{4639.0}{1.0147}{O II}\lab{4642.0}{1.0147}{O II}\lab{4643.2}{1.0147}{N II}
\lab{4647.6}{1.0147}{C III}\lab{4649.1}{1.0147}{O II}\lab{4650.2}{1.0147}{O II}\lab{4650.9}{1.0147}{O II}\lab{4651.6}{1.0147}{O II}
\lab{4654.5}{1.0147}{N II}
\end{axis}

\begin{axis}[spec,narrow,hiy,at={(596pt,20pt)},xmin=4587.1,xmax=4599.1,xtick={4588,4590,...,4598},minor x tick num=3]
\addplot[obs] coordinates {(4587.1,1.0)(4587.25,1.02)(4587.4,1.055)(4587.55,0.99)(4587.7,1.0)(4587.85,0.975)(4588.0,1.035)(4588.15,1.0)(4588.3,1.03)(4588.45,1.01)(4588.6,1.025)(4588.75,0.995)(4588.9,1.01)(4589.05,0.99)(4589.2,1.005)(4589.35,0.995)(4589.5,1.01)(4589.65,0.98)(4589.8,1.0)(4589.95,0.97)(4590.1,0.985)(4590.25,0.955)(4590.4,0.965)(4590.55,0.95)(4590.7,0.96)(4590.85,0.945)(4591.0,0.955)(4591.15,0.95)(4591.3,0.96)(4591.45,0.945)(4591.6,0.975)(4591.75,0.985)(4591.9,1.0)(4592.05,0.98)(4592.2,1.015)(4592.35,0.99)(4592.5,1.005)(4592.65,0.975)(4592.8,1.0)(4592.95,0.985)(4593.1,0.995)(4593.25,0.97)(4593.4,0.99)(4593.55,1.01)(4593.7,0.98)(4593.85,0.995)(4594.0,0.975)(4594.15,1.0)(4594.3,1.2)(4594.4,0.98)(4594.55,0.995)(4594.7,0.97)(4594.85,1.0)(4595.0,0.985)(4595.15,0.995)(4595.3,0.975)(4595.45,0.985)(4595.6,0.965)(4595.75,0.96)(4595.9,0.975)(4596.05,0.955)(4596.2,0.96)(4596.35,0.94)(4596.5,0.955)(4596.65,0.965)(4596.8,0.985)(4596.95,0.99)(4597.1,1.01)(4597.25,1.0)(4597.4,1.03)(4597.55,0.995)(4597.7,1.025)(4597.85,1.005)(4598.0,0.99)(4598.15,1.015)(4598.3,0.985)(4598.45,1.01)(4598.6,0.99)(4598.75,1.0)(4598.9,0.98)(4599.1,0.995)};
\addplot[mod] coordinates {(4587.1,1.0)(4589.9,1.0)(4590.2,0.988)(4590.45,0.969)(4590.8,0.958)(4591.1,0.957)(4591.45,0.966)(4591.8,0.988)(4592.05,1.0)(4595.1,1.0)(4595.35,0.988)(4595.6,0.969)(4596.0,0.958)(4596.3,0.957)(4596.6,0.966)(4596.95,0.988)(4597.2,1.0)(4599.1,1.0)};
\lab{4591.1}{1.015}{O II}
\lab[black]{4596.3}{1.015}{O II}
\end{axis}

\def\barlen{6pt}\def\bargap{1pt}
\begin{axis}[spec,narrow,colfour,at={(776pt,20pt)},xmin=4460,xmax=4485.7,xtick={4460,4465,...,4485},minor x tick num=4,
  ymin=0.555,ymax=1.155,ytick={0.6,0.7,0.8,0.9,1,1.1},minor y tick num=4]
\addplot[obs] coordinates {(4460.0,1.0)(4460.35,0.99)(4460.7,1.005)(4461.05,0.985)(4461.4,1.0)(4461.75,0.99)(4462.1,1.01)(4462.45,0.98)(4462.8,0.995)(4463.15,0.975)(4463.5,1.0)(4463.85,0.98)(4464.2,0.99)(4464.55,0.97)(4464.9,0.985)(4465.25,0.965)(4465.6,0.975)(4465.95,0.955)(4466.3,0.97)(4466.65,0.945)(4467.0,0.955)(4467.35,0.93)(4467.7,0.935)(4468.05,0.9)(4468.4,0.875)(4468.75,0.85)(4469.1,0.83)(4469.45,0.81)(4469.8,0.80)(4470.15,0.78)(4470.5,0.76)(4470.8,0.70)(4471.05,0.64)(4471.3,0.61)(4471.55,0.66)(4471.8,0.73)(4472.1,0.79)(4472.4,0.84)(4472.7,0.875)(4473.05,0.89)(4473.4,0.915)(4473.75,0.93)(4474.1,0.94)(4474.45,0.955)(4474.8,0.945)(4475.15,0.965)(4475.5,0.96)(4475.85,0.975)(4476.2,0.965)(4476.55,0.985)(4476.9,0.97)(4477.25,0.99)(4477.6,0.975)(4477.95,0.995)(4478.3,0.985)(4478.65,0.975)(4479.0,0.97)(4479.35,0.965)(4479.7,0.96)(4480.05,0.93)(4480.4,0.9)(4480.75,0.885)(4481.1,0.9)(4481.45,0.95)(4481.8,0.99)(4482.15,1.005)(4482.5,0.99)(4482.85,1.02)(4483.2,0.995)(4483.55,1.01)(4483.9,0.985)(4484.25,1.0)(4484.6,0.99)(4484.95,1.01)(4485.3,0.99)(4485.7,1.0)};
\addplot[mod] coordinates {(4460,1.0)(4462.4,0.997)(4464.6,0.991)(4466.3,0.981)(4467.5,0.96)(4468.3,0.922)(4468.9,0.874)(4469.3,0.837)(4469.7,0.816)(4470.2,0.795)(4470.6,0.726)(4470.9,0.662)(4471.2,0.630)(4471.45,0.662)(4471.7,0.726)(4472.1,0.8)(4472.6,0.864)(4473.4,0.919)(4474.6,0.954)(4476,0.976)(4477.7,0.986)(4478.5,0.997)(4479.1,0.981)(4479.7,0.97)(4480.1,0.938)(4480.5,0.901)(4480.8,0.89)(4481.2,0.912)(4481.5,0.97)(4481.9,0.997)(4485.7,1.0)};
\lab{4471.2}{1.013}{He I}
\draw[black,line width=0.6pt] (axis cs:4479.7,1.013) -- ++(0pt,9pt);
\draw[labc,line width=1.2pt] (axis cs:4480.8,1.013) -- ++(0pt,17pt) ++(0pt,3pt) node[rotate=90,anchor=west,inner sep=0pt,font=\lfont,text=labc] {Mg II};
\end{axis}
\end{tikzpicture}
\end{document}
